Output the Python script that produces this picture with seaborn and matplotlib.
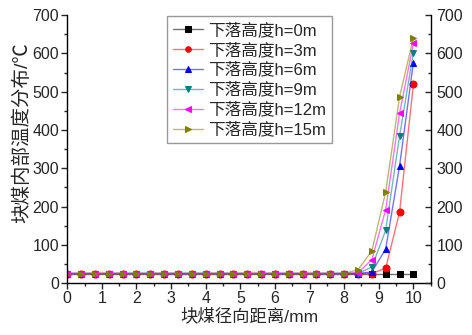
import numpy as np
import pandas as pd
import matplotlib
matplotlib.use("Agg")
import matplotlib.pyplot as plt
import seaborn as sns
from matplotlib.colors import to_rgba
from matplotlib.ticker import MultipleLocator

# ---- data ----
x_mm = [0.0, 0.4, 0.8, 1.2, 1.6, 2.0, 2.4, 2.8, 3.2, 3.6, 4.0, 4.4, 4.8,
        5.2, 5.6, 6.0, 6.4, 6.8, 7.2, 7.6, 8.0, 8.4, 8.8, 9.2, 9.6, 10.0]
t_h0 = [25] * 26
t_h3 = [25] * 23 + [39, 185, 519]
t_h6 = [25] * 22 + [29, 89, 306, 576]
t_h9 = [25] * 22 + [42, 138, 384, 602]
t_h12 = [25] * 21 + [27, 61, 192, 443, 626]
t_h15 = [25] * 21 + [35, 84, 238, 486, 641]
labels = ['下落高度h=0m', '下落高度h=3m', '下落高度h=6m',
          '下落高度h=9m', '下落高度h=12m', '下落高度h=15m']
series = [t_h0, t_h3, t_h6, t_h9, t_h12, t_h15]

colors = ['#000000', '#ff0000', '#0000ff', '#008080', '#ff00ff', '#808000']
markers = ['s', 'o', '^', 'v', '<', '>']

df = pd.concat([pd.DataFrame({'x': x_mm, 'T': s, 'h': lab})
                for s, lab in zip(series, labels)], ignore_index=True)

sns.set_style('ticks')
plt.rcParams['font.family'] = ['Liberation Sans', 'Noto Sans CJK SC', 'DejaVu Sans']
plt.rcParams['font.size'] = 10

fig = plt.figure(figsize=(4.72, 3.35), dpi=100)
ax = fig.add_axes([0.1425, 0.155, 0.77, 0.80])

sns.lineplot(data=df, x='x', y='T', hue='h', style='h',
             palette=dict(zip(labels, colors)),
             markers=dict(zip(labels, markers)), dashes=False,
             markersize=5, linewidth=1.0, legend=False, ax=ax)

for ln, c in zip(ax.lines, colors):
    ln.set_color(to_rgba(c, 0.55))
    ln.set_markerfacecolor(c)
    ln.set_markeredgecolor(c)

ax.set_xlim(0, 10.5)
ax.set_ylim(0, 700)
ax.xaxis.set_major_locator(MultipleLocator(1))
ax.xaxis.set_minor_locator(MultipleLocator(0.5))
ax.yaxis.set_major_locator(MultipleLocator(100))
ax.yaxis.set_minor_locator(MultipleLocator(50))
ax.tick_params(which='major', direction='out', length=4, width=1, labelsize=11.5, pad=2)
ax.tick_params(which='minor', direction='out', length=2.5, width=1)
ax.set_xlabel('块煤径向距离/mm', fontsize=12.5, labelpad=1)
ax.set_ylabel('块煤内部温度分布/℃', fontsize=14)
ax.yaxis.set_label_coords(-0.1, 0.56)
for sp in ['left', 'bottom']:
    ax.spines[sp].set_linewidth(1)
    ax.spines[sp].set_color('black')
ax.spines['top'].set_visible(False)
ax.spines['right'].set_visible(False)

ax2 = ax.twinx()
ax2.set_ylim(0, 700)
ax2.yaxis.set_major_locator(MultipleLocator(100))
ax2.yaxis.set_minor_locator(MultipleLocator(50))
ax2.tick_params(which='major', direction='in', length=4, width=1, labelsize=11.5, pad=4)
ax2.tick_params(which='minor', direction='in', length=2.5, width=1)
ax2.spines['top'].set_visible(False)
ax2.spines['left'].set_visible(False)
ax2.spines['bottom'].set_visible(False)
ax2.spines['right'].set_linewidth(1)
ax2.spines['right'].set_color('black')

leg = ax.legend(ax.lines, labels, loc='upper left', bbox_to_anchor=(0.274, 0.995),
                borderaxespad=0, fontsize=12, frameon=True, fancybox=False,
                edgecolor='#808080', handlelength=1.8, labelspacing=0.25,
                handletextpad=0.3, borderpad=0.35, markerscale=0.8)
leg.get_frame().set_linewidth(1)
leg.set_zorder(5)

fig.savefig('out.png', dpi=100)
